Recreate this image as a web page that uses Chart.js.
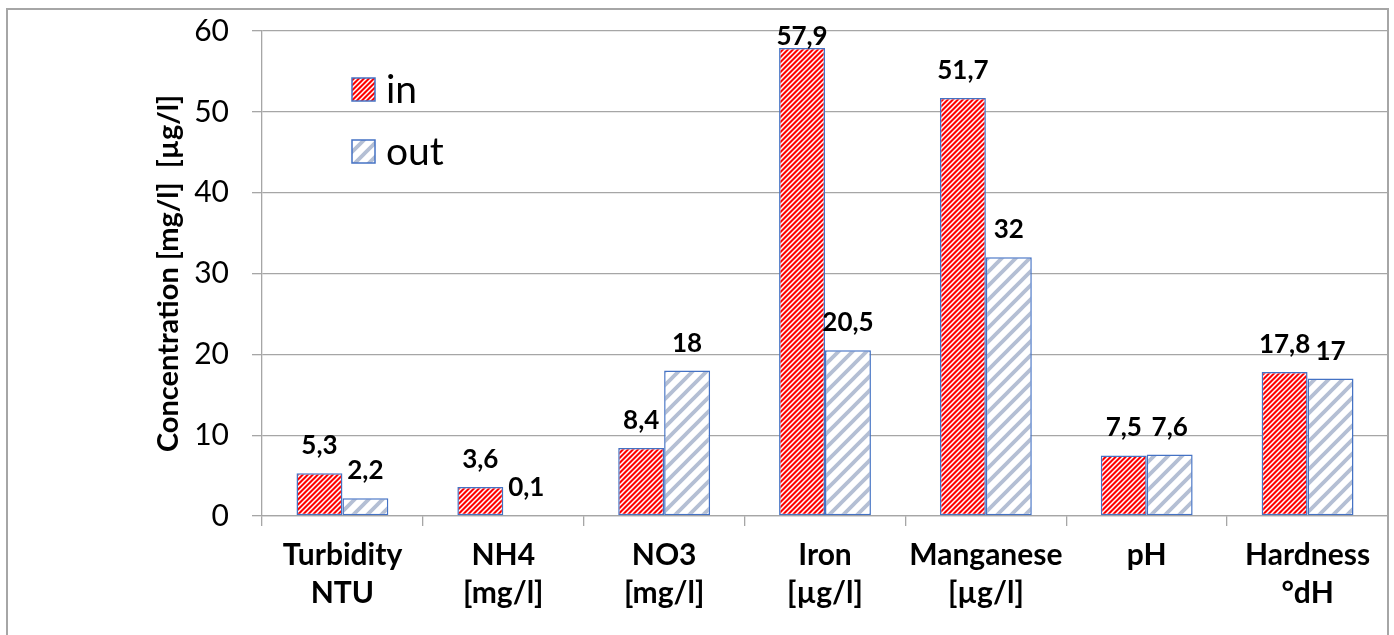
<!DOCTYPE html>
<html lang="en">
<head>
  <meta charset="UTF-8">
  <title>Water quality in / out</title>
  <style>
    body { margin: 0; background: #fff; }
    #wrap { position: relative; width: 1394px; height: 635px; }
    #frame {
      position: absolute; left: 6px; top: 8px; width: 1383px; height: 700px;
      border: 2px solid #a6a6a6; pointer-events: none; box-sizing: border-box;
    }
  </style>
</head>
<body>
  <div id="wrap">
    <canvas id="barChart"></canvas>
    <div id="frame"></div>
  </div>

  <script src="https://cdn.jsdelivr.net/npm/chart.js"></script>
  <script>
    // categories (two lines each)
    const categories = [
      ['Turbidity', 'NTU'],
      ['NH4', '[mg/l]'],
      ['NO3', '[mg/l]'],
      ['Iron', '[µg/l]'],
      ['Manganese', '[µg/l]'],
      ['pH', ''],
      ['Hardness', '°dH']
    ];
    const inValues = [5.3, 3.6, 8.4, 57.9, 51.7, 7.5, 17.8];
    const outValues = [2.2, 0.1, 18, 20.5, 32, 7.6, 17];
    const yTicks = { min: 0, max: 60, step: 10 };
    const yTitle = 'Concentration [mg/l]  [µg/l]';

    // diagonal hatch pattern
    const hatch = (bg, fg, size, width) => {
      const c = document.createElement('canvas');
      c.width = c.height = size;
      const x = c.getContext('2d');
      x.fillStyle = bg;
      x.fillRect(0, 0, size, size);
      x.strokeStyle = fg;
      x.lineWidth = width;
      x.beginPath();
      x.moveTo(-size / 2, size / 2); x.lineTo(size / 2, -size / 2);
      x.moveTo(0, size); x.lineTo(size, 0);
      x.moveTo(size / 2, size * 1.5); x.lineTo(size * 1.5, size / 2);
      x.stroke();
      return x.createPattern(c, 'repeat');
    };

    const redHatch = hatch('#ff0000', '#ffffff', 5, 1.5);
    const greyHatch = hatch('#ffffff', '#b4bfd4', 14, 3.8);

    // value labels above bars, decimal comma
    const valueLabels = {
      id: 'valueLabels',
      afterDatasetsDraw(chart) {
        const { ctx, chartArea } = chart;
        ctx.save();
        ctx.font = 'bold 26px Lato';
        ctx.fillStyle = '#000';
        ctx.textAlign = 'center';
        ctx.textBaseline = 'alphabetic';
        chart.data.datasets.forEach((ds, i) => {
          chart.getDatasetMeta(i).data.forEach((bar, j) => {
            const y = Math.max(bar.y - 19, chartArea.top + 14);
            ctx.fillText(String(ds.data[j]).replace('.', ','), bar.x, y);
          });
        });
        ctx.restore();
      }
    };

    // legend inside the plot, top left
    const insideLegend = {
      id: 'insideLegend',
      afterDraw(chart) {
        const { ctx, chartArea } = chart;
        ctx.save();
        chart.data.datasets.forEach((ds, i) => {
          const x = chartArea.left + 90;
          const y = chartArea.top + 47 + i * 62;
          ctx.fillStyle = ds.backgroundColor;
          ctx.fillRect(x, y, 23, 23);
          ctx.strokeStyle = ds.borderColor;
          ctx.lineWidth = 1.5;
          ctx.strokeRect(x, y, 23, 23);
          ctx.fillStyle = '#000';
          ctx.font = '39px Lato';
          ctx.textAlign = 'left';
          ctx.textBaseline = 'alphabetic';
          ctx.fillText(ds.label, x + 34, y + 25);
        });
        ctx.restore();
      }
    };

    const gridGrey = '#a6a6a6';

    new Chart(document.getElementById('barChart'), {
      type: 'bar',
      data: {
        labels: categories,
        datasets: [{
          label: 'in',
          data: inValues,
          backgroundColor: redHatch,
          borderColor: '#4472c4',
          borderWidth: 1.5,
          borderSkipped: false
        }, {
          label: 'out',
          data: outValues,
          backgroundColor: greyHatch,
          borderColor: '#4472c4',
          borderWidth: 1.5,
          borderSkipped: false
        }]
      },
      options: {
        responsive: true,
        maintainAspectRatio: false,
        animation: false,
        categoryPercentage: 0.571,
        barPercentage: 1,
        layout: { padding: { top: 31, right: 6, bottom: 0, left: 0 } },
        plugins: {
          legend: { display: false },
          tooltip: { enabled: false }
        },
        scales: {
          x: {
            grid: { offset: true, drawOnChartArea: false, drawTicks: true, tickLength: 10, color: gridGrey, lineWidth: 1.3 },
            border: { color: gridGrey, width: 1.3 },
            ticks: {
              color: '#000', autoSkip: false, maxRotation: 0, padding: 10,
              font: { family: 'Lato', size: 30, weight: 'bold', lineHeight: 1.28 }
            },
            afterFit: (s) => { s.height = 119; s.paddingLeft = 0; s.paddingRight = 0; }
          },
          y: {
            min: yTicks.min,
            max: yTicks.max,
            ticks: { stepSize: yTicks.step, color: '#000', padding: 23, font: { family: 'Lato', size: 30 } },
            grid: { color: gridGrey, lineWidth: 1.3, tickLength: 10 },
            border: { color: gridGrey, width: 1.3 },
            title: {
              display: true, text: yTitle, color: '#000',
              font: { family: 'Lato', size: 29, weight: 'bold' },
              padding: { top: 151, bottom: 0 }
            },
            afterFit: (s) => { s.width = 262; s.paddingTop = 0; s.paddingBottom = 0; }
          }
        }
      },
      plugins: [valueLabels, insideLegend]
    });
  </script>
</body>
</html>
